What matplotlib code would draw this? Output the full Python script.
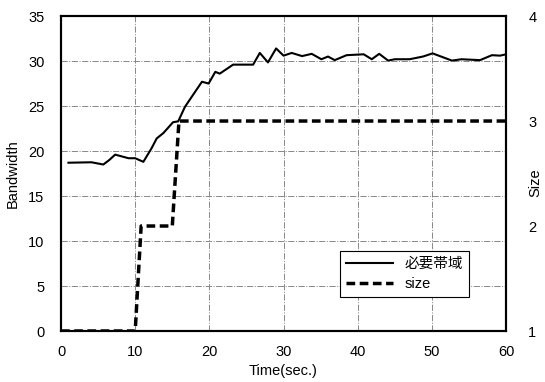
import matplotlib
matplotlib.use("Agg")
import matplotlib.pyplot as plt

plt.rcParams['font.family'] = ['Liberation Sans', 'Noto Sans CJK JP', 'DejaVu Sans']

# bandwidth (必要帯域)
t_bw = [1.0, 4.1, 5.7, 6.5, 7.3, 8.2, 9.1, 10.0, 11.1, 12.2, 12.9, 13.8, 15.1, 15.8,
        16.7, 17.6, 19.0, 19.9, 20.8, 21.4, 23.2, 25.9, 26.8, 27.9, 29.0, 30.0,
        31.1, 32.5, 33.8, 35.1, 36.0, 36.9, 38.5, 40.8, 41.9, 42.9, 44.1, 45.0,
        47.0, 48.8, 50.1, 52.7, 54.0, 56.5, 58.1, 59.2, 60.0]
bw = [18.7, 18.75, 18.5, 19.0, 19.6, 19.4, 19.2, 19.2, 18.8, 20.3, 21.4, 22.0, 23.2, 23.3,
      24.9, 26.0, 27.7, 27.5, 28.8, 28.6, 29.6, 29.6, 30.9, 29.85, 31.4, 30.6,
      30.9, 30.55, 30.8, 30.2, 30.5, 30.1, 30.65, 30.75, 30.2, 30.8, 30.05, 30.2,
      30.2, 30.5, 30.85, 30.05, 30.2, 30.1, 30.65, 30.6, 30.75]

# size
t_size = [0, 10.0, 10.8, 15.0, 15.9, 60]
size = [1, 1, 2, 2, 3, 3]

fig = plt.figure(figsize=(5.45, 3.82), dpi=100)
ax = fig.add_axes([0.112, 0.1335, 0.8165, 0.8245])
ax2 = ax.twinx()

l1, = ax.plot(t_bw, bw, color='black', lw=1.5, label='必要帯域')
l2, = ax2.plot(t_size, size, color='black', lw=2.5, ls=(0, (2.5, 1.3)), label='size')

ax.set_xlim(0, 60)
ax.set_ylim(0, 35)
ax2.set_ylim(1, 4)
ax.set_xticks(range(0, 61, 10))
ax.set_yticks(range(0, 36, 5))
ax2.set_yticks([1, 2, 3, 4])

ax.grid(True, color='#888888', lw=0.7, ls='-.')
for a in (ax, ax2):
    for s in a.spines.values():
        s.set_linewidth(1.5)
    a.tick_params(length=0, labelsize=10.5)
ax.tick_params(axis='x', pad=10)
ax.tick_params(axis='y', pad=12)
ax2.tick_params(axis='y', pad=16)

ax.set_xlabel('Time(sec.)', fontsize=10.5, labelpad=4)
ax.set_ylabel('Bandwidth', fontsize=10.5, labelpad=6)
ax2.set_ylabel('Size', fontsize=10.5, rotation=90, va='center', ha='center')
ax2.yaxis.set_label_coords(1.066, 0.47)

leg = ax.legend(handles=[l1, l2], loc='lower left', bbox_to_anchor=(0.611, 0.086),
                fontsize=10.5, frameon=True, fancybox=False, edgecolor='black',
                framealpha=1, handlelength=3.2, borderpad=0.4, labelspacing=0.4)
leg.get_frame().set_linewidth(0.8)

fig.savefig('out.png', dpi=100)
